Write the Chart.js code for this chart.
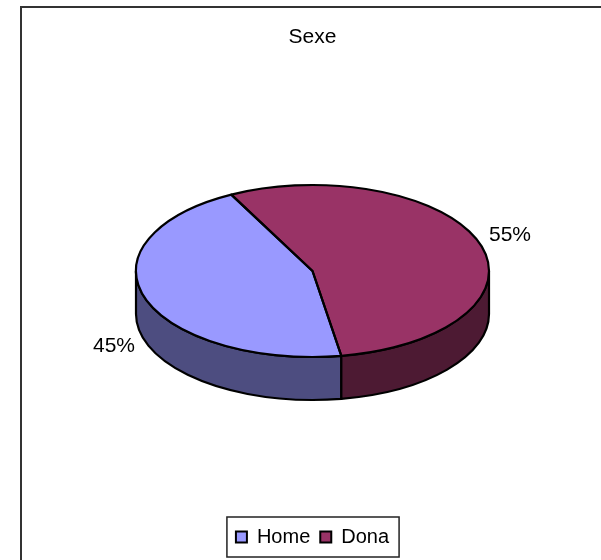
<!DOCTYPE html>
<html>
<head>
<meta charset="utf-8">
<style>
html,body{margin:0;padding:0;background:#fff;}
canvas{display:block;}
</style>
<script src="https://cdn.jsdelivr.net/npm/chart.js@4"></script>
</head>
<body>
<canvas id="c" width="601" height="560"></canvas>
<script>
const categories = ['Home', 'Dona'];
const values = [45, 55];
const topColors = ['#9999FF', '#993366'];
const sideColors = ['#4D4D80', '#4D1A33'];
const labelOffsets = [[-31, 48], [30, -9]];
const chartTitle = 'Sexe';

const FONT = '"Liberation Sans", Arial, sans-serif';
const PIE_CENTER_Y = 271;
const SQUASH = 86 / 176.5;
const DEPTH = 43;
const START_DEG = 170.6;

function ellipseOf(chart) {
  const el = chart.getDatasetMeta(0).data[0];
  return { x: el.x, y: el.y, cy: PIE_CENTER_Y, rx: el.outerRadius, ry: el.outerRadius * SQUASH };
}

const pie3d = {
  id: 'pie3d',
  beforeDatasetsDraw(chart) {
    const ctx = chart.ctx, e = ellipseOf(chart);
    const arcs = chart.getDatasetMeta(0).data;
    ctx.save();
    ctx.strokeStyle = '#000';
    ctx.lineWidth = 2.2;
    ctx.lineJoin = 'round';
    arcs.forEach((a, i) => {
      [0, Math.PI * 2].forEach(off => {
        const s = Math.max(a.startAngle - off, 0);
        const t = Math.min(a.endAngle - off, Math.PI);
        if (t <= s) return;
        ctx.beginPath();
        ctx.ellipse(e.x, e.cy, e.rx, e.ry, 0, s, t, false);
        ctx.ellipse(e.x, e.cy + DEPTH, e.rx, e.ry, 0, t, s, true);
        ctx.closePath();
        ctx.fillStyle = sideColors[i];
        ctx.fill();
        ctx.stroke();
      });
    });
    ctx.restore();
    ctx.save();
    ctx.translate(e.x, e.cy);
    ctx.scale(1, SQUASH);
    ctx.translate(-e.x, -e.y);
  },
  afterDatasetsDraw(chart) {
    const ctx = chart.ctx;
    ctx.restore();
    const e = ellipseOf(chart);
    const arcs = chart.getDatasetMeta(0).data;
    ctx.save();
    ctx.strokeStyle = '#000';
    ctx.lineWidth = 2.2;
    ctx.lineJoin = 'round';
    arcs.forEach((a, i) => {
      ctx.beginPath();
      ctx.moveTo(e.x, e.cy);
      ctx.ellipse(e.x, e.cy, e.rx, e.ry, 0, a.startAngle, a.endAngle, false);
      ctx.closePath();
      ctx.stroke();
      const mid = (a.startAngle + a.endAngle) / 2;
      ctx.fillStyle = '#000';
      ctx.font = '21px ' + FONT;
      ctx.textAlign = 'center';
      ctx.textBaseline = 'middle';
      ctx.fillText(values[i] + '%',
        e.x + Math.cos(mid) * e.rx + labelOffsets[i][0],
        e.cy + Math.sin(mid) * e.ry + labelOffsets[i][1]);
    });
    ctx.restore();
  },
  afterDraw(chart) {
    const ctx = chart.ctx, lg = chart.legend, hb = lg.legendHitBoxes;
    const left = Math.min(...hb.map(b => b.left)) - 9;
    const right = Math.max(...hb.map(b => b.left + b.width)) + 10;
    ctx.save();
    ctx.strokeStyle = '#222';
    ctx.lineWidth = 1.5;
    ctx.strokeRect(left, lg.top, right - left, lg.height);
    ctx.lineWidth = 2;
    ctx.strokeStyle = '#333';
    ctx.beginPath();
    ctx.moveTo(21, 560);
    ctx.lineTo(21, 7);
    ctx.lineTo(601, 7);
    ctx.stroke();
    ctx.restore();
  }
};

new Chart(document.getElementById('c'), {
  type: 'pie',
  data: {
    labels: categories,
    datasets: [{
      data: values,
      backgroundColor: topColors,
      borderWidth: 0,
      clip: false
    }]
  },
  options: {
    responsive: false,
    animation: false,
    rotation: START_DEG,
    layout: { padding: { left: 136, right: 112, top: 0, bottom: 3 } },
    plugins: {
      tooltip: { enabled: false },
      title: {
        display: true,
        text: chartTitle,
        color: '#000',
        font: { family: FONT, size: 21, weight: 'normal' },
        padding: { top: 25, bottom: 0 }
      },
      legend: {
        position: 'bottom',
        labels: {
          color: '#000',
          font: { family: FONT, size: 20 },
          boxWidth: 11,
          boxHeight: 11,
          padding: 10,
          generateLabels: () => categories.map((t, i) => ({
            text: t, fillStyle: topColors[i], strokeStyle: '#000', lineWidth: 2, index: i
          }))
        }
      }
    }
  },
  plugins: [pie3d]
});
</script>
</body>
</html>
